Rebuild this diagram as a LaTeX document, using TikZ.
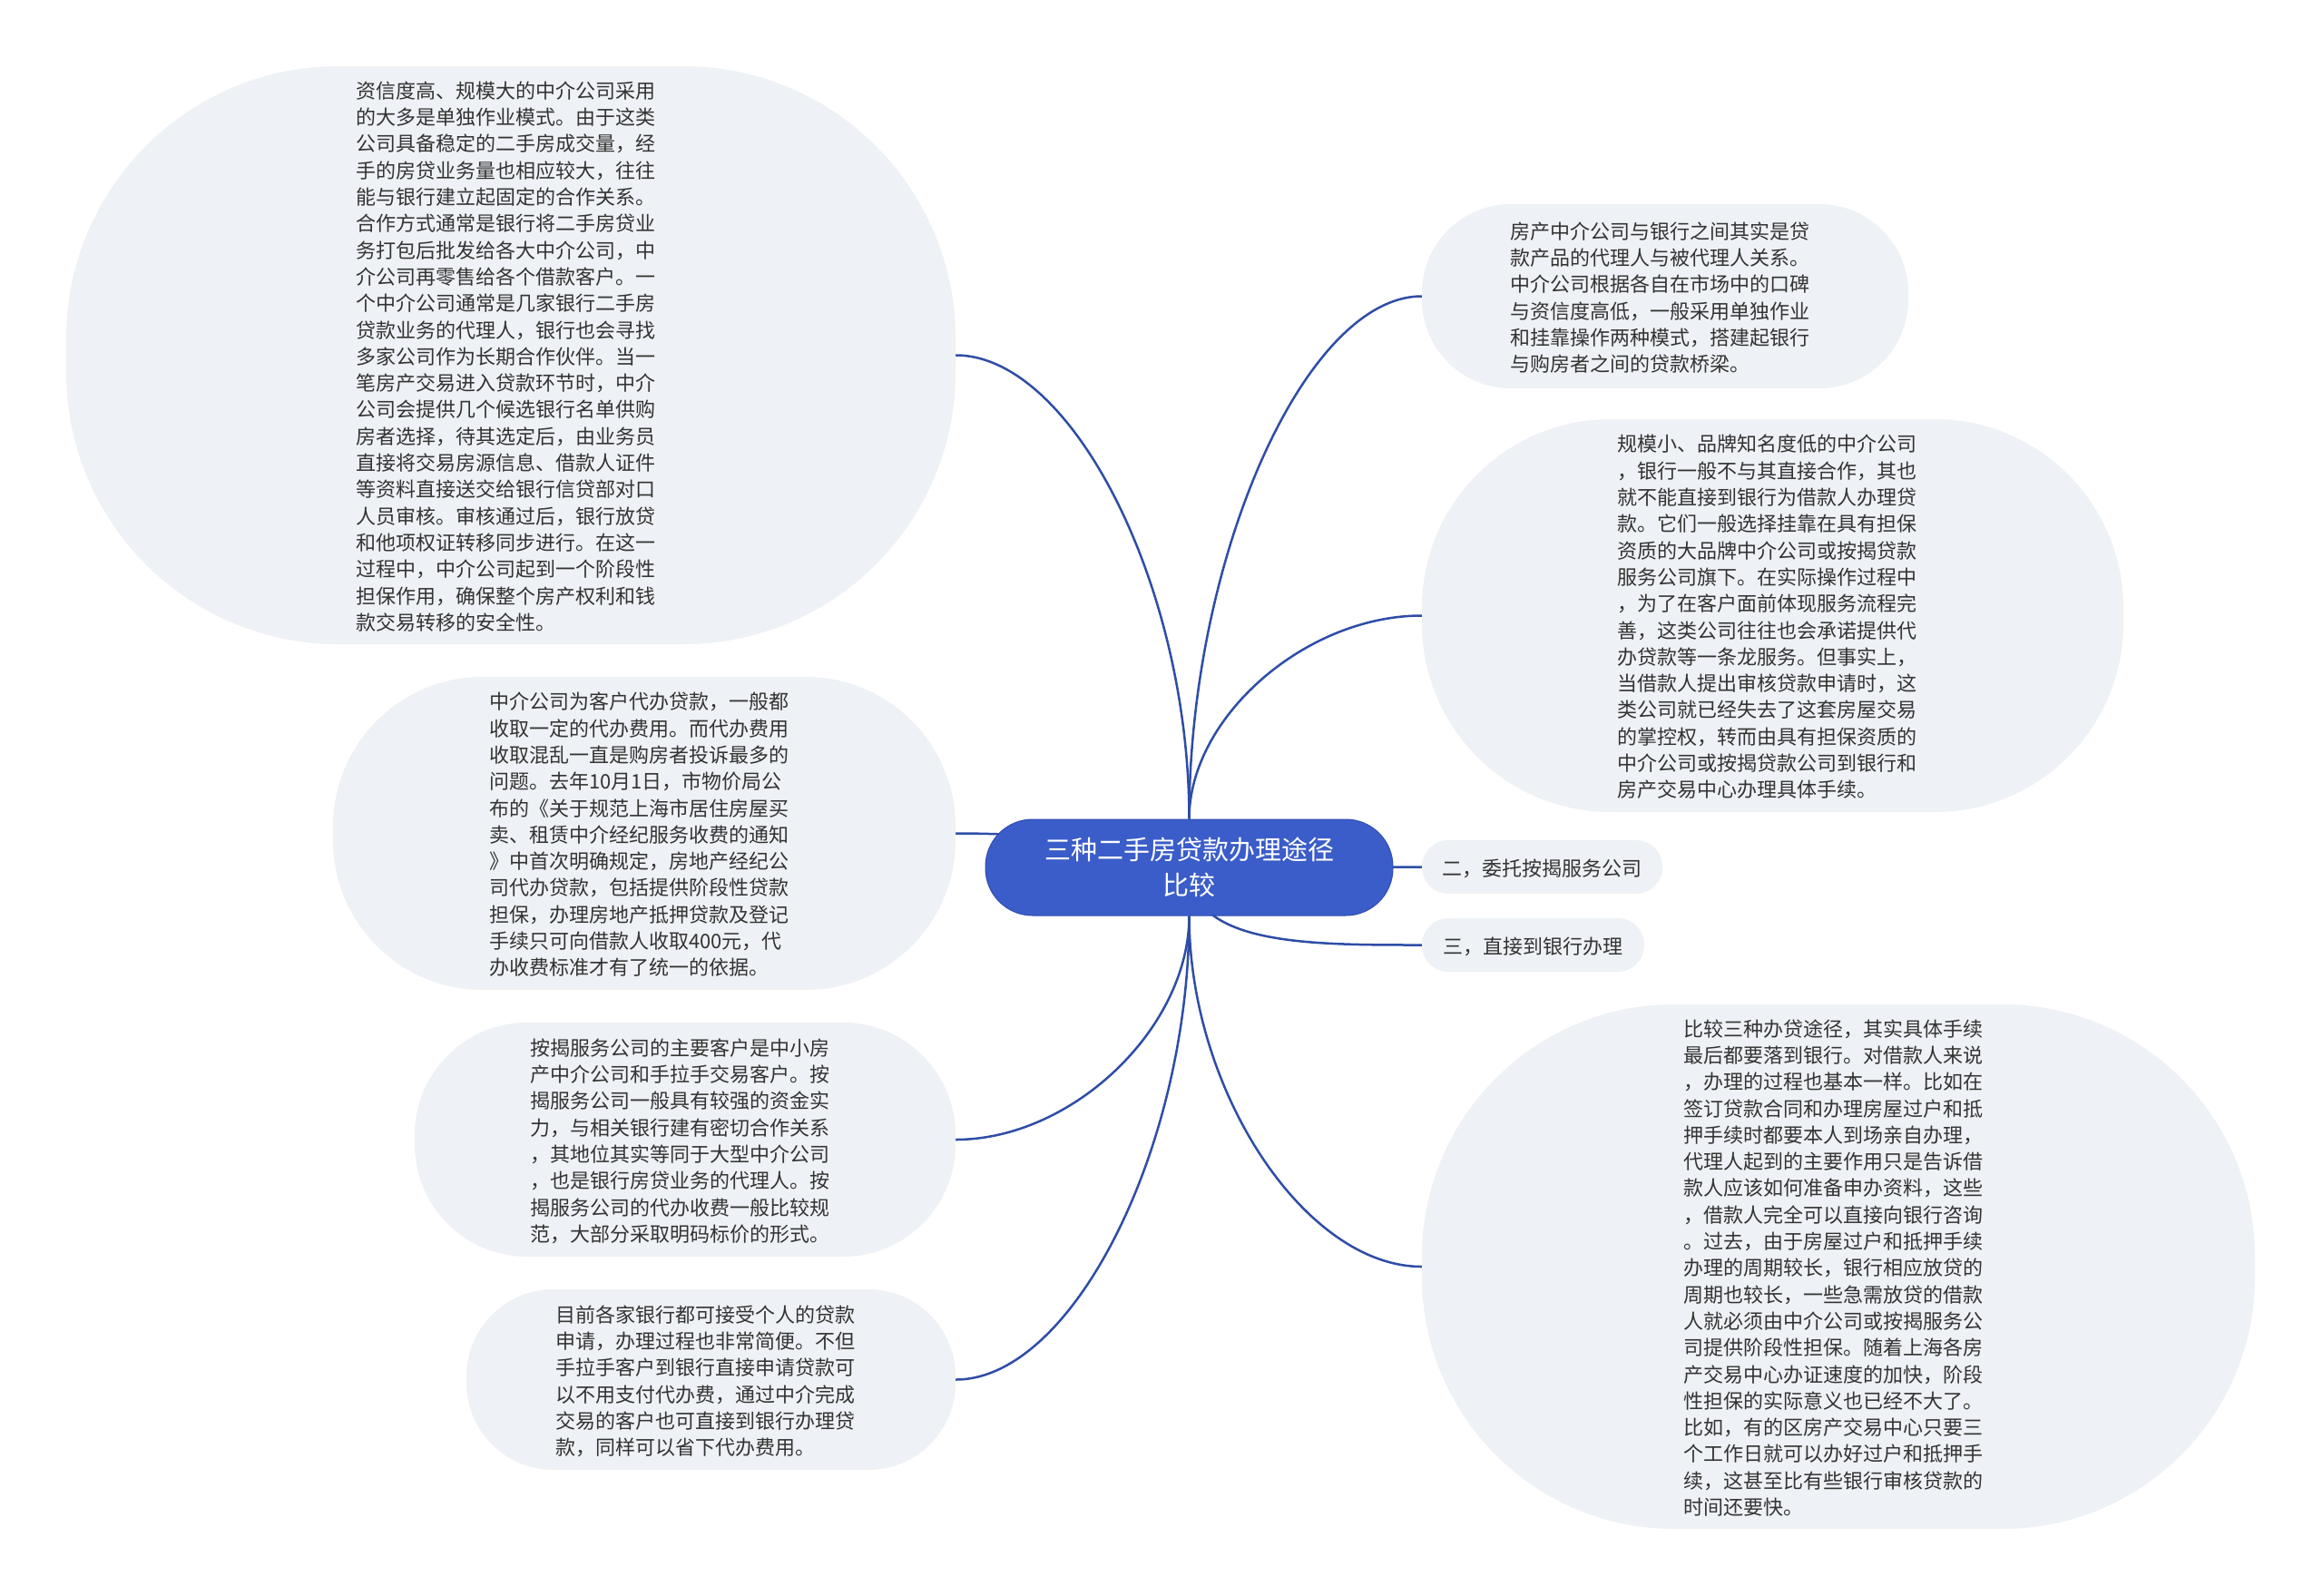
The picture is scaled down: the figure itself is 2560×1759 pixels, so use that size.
\documentclass[tikz,border=0pt]{standalone}
\usepackage{fontspec}
\setmainfont{Noto Sans CJK SC}
\usetikzlibrary{calc,backgrounds}
\definecolor{boxfill}{HTML}{EEF1F5}
\definecolor{linkc}{HTML}{2E4DA7}
\definecolor{mainfill}{HTML}{3B5DC9}
\definecolor{mainedge}{HTML}{2F4DB0}
\definecolor{txt}{HTML}{333333}
\newcommand{\blk}[1]{\begin{tabular}{@{}l@{\hspace{12pt}}}\rule{0pt}{28.5pt}#1\end{tabular}}
\newcommand{\lbl}[1]{\rule{0pt}{22pt}#1}
\newcommand{\vlink}[2]{\draw[link] (#1) .. controls ($(#1)!0.5!(#1|-#2)$) and ($(#1|-#2)!0.5!(#2)$) .. (#2);}
\begin{document}
\begin{tikzpicture}[x=1pt,y=-1pt,
  leaf/.style={fill=boxfill, inner sep=0pt, text=txt, font=\fontsize{22}{29.3}\selectfont},
  tag/.style={fill=boxfill, inner sep=0pt, text=txt, font=\fontsize{22}{29.3}\selectfont, rounded corners=29pt, minimum height=59pt},
  root/.style={fill=mainfill, draw=mainedge, line width=1pt, inner sep=0pt, text=white, align=center, font=\fontsize{29}{39}\selectfont, rounded corners=52pt, minimum width=449pt, minimum height=106pt},
  link/.style={draw=linkc, line width=2.5pt}]
\useasboundingbox (0,0) rectangle (2560,1759);

\node[root] (c) at (1310.5,956) {三种二手房贷款办理途径\\比较};

\node[leaf, minimum width=980pt, minimum height=637pt, rounded corners=300pt] (A) at (563,391.5) {\blk{%
资信度高、规模大的中介公司采用\\
的大多是单独作业模式。由于这类\\
公司具备稳定的二手房成交量，经\\
手的房贷业务量也相应较大，往往\\
能与银行建立起固定的合作关系。\\
合作方式通常是银行将二手房贷业\\
务打包后批发给各大中介公司，中\\
介公司再零售给各个借款客户。一\\
个中介公司通常是几家银行二手房\\
贷款业务的代理人，银行也会寻找\\
多家公司作为长期合作伙伴。当一\\
笔房产交易进入贷款环节时，中介\\
公司会提供几个候选银行名单供购\\
房者选择，待其选定后，由业务员\\
直接将交易房源信息、借款人证件\\
等资料直接送交给银行信贷部对口\\
人员审核。审核通过后，银行放贷\\
和他项权证转移同步进行。在这一\\
过程中，中介公司起到一个阶段性\\
担保作用，确保整个房产权利和钱\\
款交易转移的安全性。}};

\node[leaf, minimum width=686pt, minimum height=345pt, rounded corners=165pt] (B) at (710,918.5) {\blk{%
中介公司为客户代办贷款，一般都\\
收取一定的代办费用。而代办费用\\
收取混乱一直是购房者投诉最多的\\
问题。去年10月1日，市物价局公\\
布的《关于规范上海市居住房屋买\\
卖、租赁中介经纪服务收费的通知\\
》中首次明确规定，房地产经纪公\\
司代办贷款，包括提供阶段性贷款\\
担保，办理房地产抵押贷款及登记\\
手续只可向借款人收取400元，代\\
办收费标准才有了统一的依据。}};

\node[leaf, minimum width=596pt, minimum height=258pt, rounded corners=124pt] (C) at (755,1256) {\blk{%
按揭服务公司的主要客户是中小房\\
产中介公司和手拉手交易客户。按\\
揭服务公司一般具有较强的资金实\\
力，与相关银行建有密切合作关系\\
，其地位其实等同于大型中介公司\\
，也是银行房贷业务的代理人。按\\
揭服务公司的代办收费一般比较规\\
范，大部分采取明码标价的形式。}};

\node[leaf, minimum width=539pt, minimum height=199pt, rounded corners=96pt] (D) at (783.5,1520.5) {\blk{%
目前各家银行都可接受个人的贷款\\
申请，办理过程也非常简便。不但\\
手拉手客户到银行直接申请贷款可\\
以不用支付代办费，通过中介完成\\
交易的客户也可直接到银行办理贷\\
款，同样可以省下代办费用。}};

\node[leaf, minimum width=536pt, minimum height=203pt, rounded corners=98pt] (E) at (1835,326.5) {\blk{%
房产中介公司与银行之间其实是贷\\
款产品的代理人与被代理人关系。\\
中介公司根据各自在市场中的口碑\\
与资信度高低，一般采用单独作业\\
和挂靠操作两种模式，搭建起银行\\
与购房者之间的贷款桥梁。}};

\node[leaf, minimum width=773pt, minimum height=433pt, rounded corners=208pt] (F) at (1953.5,678.5) {\blk{%
规模小、品牌知名度低的中介公司\\
，银行一般不与其直接合作，其也\\
就不能直接到银行为借款人办理贷\\
款。它们一般选择挂靠在具有担保\\
资质的大品牌中介公司或按揭贷款\\
服务公司旗下。在实际操作过程中\\
，为了在客户面前体现服务流程完\\
善，这类公司往往也会承诺提供代\\
办贷款等一条龙服务。但事实上，\\
当借款人提出审核贷款申请时，这\\
类公司就已经失去了这套房屋交易\\
的掌控权，转而由具有担保资质的\\
中介公司或按揭贷款公司到银行和\\
房产交易中心办理具体手续。}};

\node[tag, minimum width=265pt] (G) at (1699.5,955.5) {\lbl{二，委托按揭服务公司}};
\node[tag, minimum width=245pt] (H) at (1689.5,1041.5) {\lbl{三，直接到银行办理}};

\node[leaf, minimum width=918pt, minimum height=578pt, rounded corners=278pt] (I) at (2026,1396) {\blk{%
比较三种办贷途径，其实具体手续\\
最后都要落到银行。对借款人来说\\
，办理的过程也基本一样。比如在\\
签订贷款合同和办理房屋过户和抵\\
押手续时都要本人到场亲自办理，\\
代理人起到的主要作用只是告诉借\\
款人应该如何准备申办资料，这些\\
，借款人完全可以直接向银行咨询\\
。过去，由于房屋过户和抵押手续\\
办理的周期较长，银行相应放贷的\\
周期也较长，一些急需放贷的借款\\
人就必须由中介公司或按揭服务公\\
司提供阶段性担保。随着上海各房\\
产交易中心办证速度的加快，阶段\\
性担保的实际意义也已经不大了。\\
比如，有的区房产交易中心只要三\\
个工作日就可以办好过户和抵押手\\
续，这甚至比有些银行审核贷款的\\
时间还要快。}};

\begin{scope}[on background layer]
\fill[white] (0,0) rectangle (2560,1759);
\vlink{c.north}{A.east}
\vlink{c.north}{E.west}
\vlink{c.north}{F.west}
\vlink{c.south}{C.east}
\vlink{c.south}{D.east}
\vlink{c.south}{I.west}
\vlink{c.center}{B.east}
\draw[link] (c.center) -- (G.west);
\draw[link] (c.center) .. controls (c.center|-H.west) and ($(c.center|-H.west)!0.5!(H.west)$) .. (H.west);
\end{scope}
\end{tikzpicture}
\end{document}
